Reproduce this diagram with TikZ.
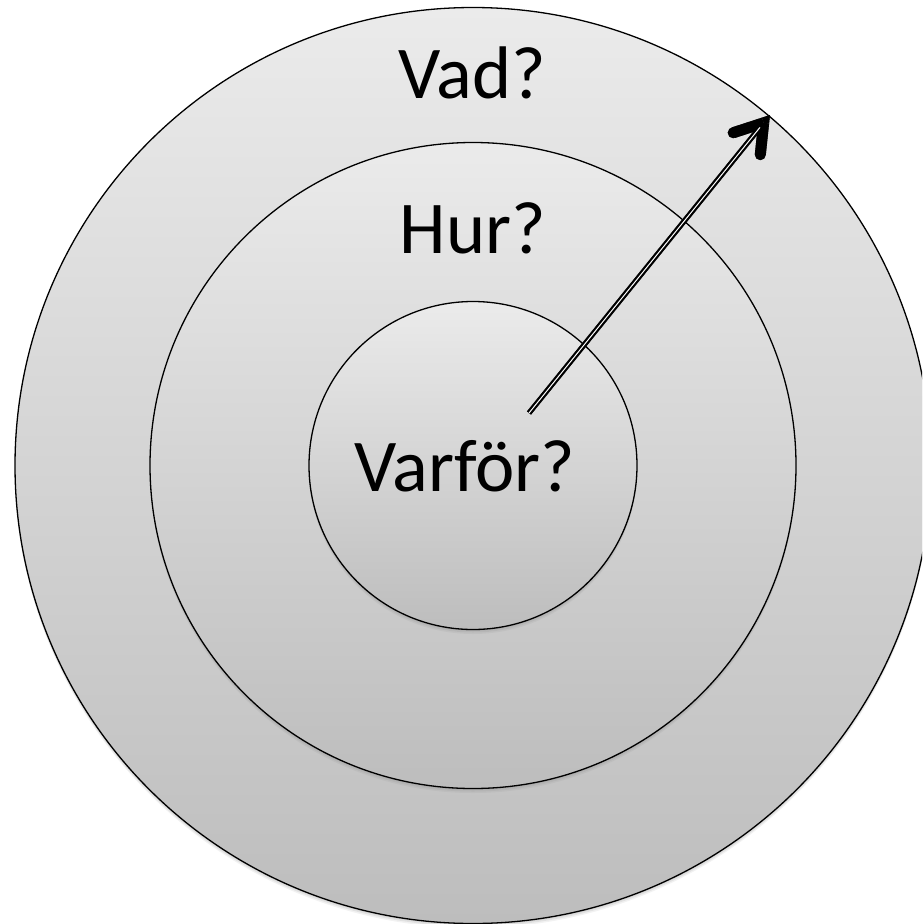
\documentclass[tikz,border=0pt]{standalone}
\usepackage{fontspec}
\setmainfont{Carlito}
\usetikzlibrary{shadows}
\definecolor{ringtop}{HTML}{EBEBEB}
\definecolor{ringbot}{HTML}{BDBDBD}
\tikzset{
  ringnode/.style={circle, draw=black, line width=1.3pt, inner sep=0pt, outer sep=0pt,
    top color=ringtop, bottom color=ringbot,
    drop shadow={opacity=0.14, shadow xshift=0pt, shadow yshift=-1.5pt},
    drop shadow={opacity=0.14, shadow xshift=0pt, shadow yshift=-3pt},
    drop shadow={opacity=0.10, shadow xshift=0pt, shadow yshift=-4.5pt}},
  lbltext/.style={anchor=base, inner sep=0pt, font=\fontsize{74.5}{80}\selectfont}
}
% arrow as filled shapes (explicit geometry); #1 = fill options
\newcommand{\arrowbody}[1]{%
  \fill[#1] (s1) -- (s2) -- (s3) -- (s4) -- cycle;
  \fill[#1] (a1) -- (a2) -- (a3) -- (a4) -- cycle;
  \fill[#1] (b1) -- (b2) -- (b3) -- (b4) -- cycle;
  \fill[#1] (e1) circle[radius=5.5pt];
  \fill[#1] (e2) circle[radius=5.5pt];
  \fill[#1] (tip) -- (a1) -- (hv) -- (b4) -- cycle;
}
\begin{document}
\begin{tikzpicture}[x=1pt, y=-1pt]
\useasboundingbox (0,0) rectangle (922,924);
\clip (0,0) rectangle (922,924);
\fill[white] (0,0) rectangle (922,924);
\node[ringnode, minimum size=916pt] (outer) at (473,465.5) {};
\node[ringnode, minimum size=646pt] (middle) at (473,465.5) {};
\node[ringnode, minimum size=328pt] (inner) at (473,465.5) {};
\node[lbltext] (vad) at (472,98) {Vad?};
\node[lbltext] (hur) at (473,253) {Hur?};
\node[lbltext] (varfor) at (465,491) {Varför?};
% arrow geometry
\coordinate (start) at (529,413);
\coordinate (tip) at (770,115);
\coordinate (hv) at (763.64,122.85);
\coordinate (e1) at (733.21,132.74);
\coordinate (e2) at (760.30,154.67);
\coordinate (s1) at (526.98,411.36);
\coordinate (s2) at (760.43,122.69);
\coordinate (s3) at (764.47,125.97);
\coordinate (s4) at (531.02,414.64);
\coordinate (a1) at (761.94,117.62);
\coordinate (a2) at (731.51,127.51);
\coordinate (a3) at (734.91,137.97);
\coordinate (a4) at (765.34,128.08);
\coordinate (b1) at (758.17,122.28);
\coordinate (b2) at (754.83,154.10);
\coordinate (b3) at (765.77,155.24);
\coordinate (b4) at (769.11,123.42);
\coordinate (w1) at (528.61,412.69);
\coordinate (w2) at (759.54,127.13);
\coordinate (w3) at (760.32,127.75);
\coordinate (w4) at (529.39,413.31);
% soft shadow of the arrow
\begin{scope}[shift={(3,4)}, transparency group, opacity=0.15]
  \arrowbody{black}
\end{scope}
\begin{scope}[shift={(1.8,2.5)}, transparency group, opacity=0.3]
  \arrowbody{black}
\end{scope}
\begin{scope}[shift={(0.8,1.2)}, transparency group, opacity=0.35]
  \arrowbody{black}
\end{scope}
\arrowbody{black}
% white centre line of the shaft
\fill[white] (w1) -- (w2) -- (w3) -- (w4) -- cycle;
\end{tikzpicture}
\end{document}
